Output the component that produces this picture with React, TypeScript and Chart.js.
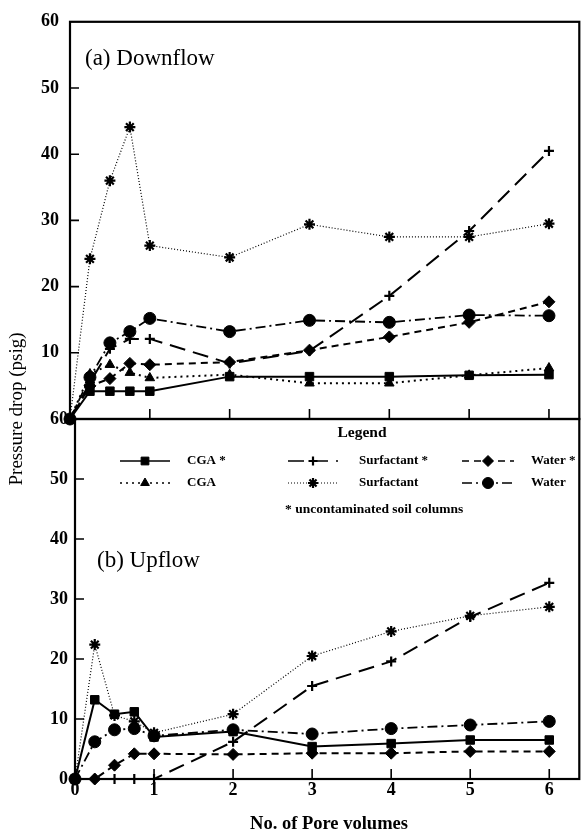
import React, { useEffect, useRef } from 'react';
import { Chart, registerables } from 'chart.js';
import { drawPoint } from 'chart.js/helpers';

Chart.register(...registerables);

// ---------- data ----------
const poreVolumes = [0, 0.25, 0.5, 0.75, 1, 2, 3, 4, 5, 6];
const xTickValues = [0, 1, 2, 3, 4, 5, 6];
const yTickValues = [0, 10, 20, 30, 40, 50, 60];
const innerXTicks = [1, 2, 3, 4, 5, 6];
const innerYTicks = [10, 20, 30, 40, 50];

const seriesLabels = ['CGA *', 'CGA', 'Surfactant *', 'Surfactant', 'Water *', 'Water'];

// (a) Downflow
const downCgaUncontam = [0, 4.2, 4.2, 4.2, 4.2, 6.4, 6.4, 6.4, 6.6, 6.7];
const downCga = [0, 6.8, 8.2, 7.0, 6.2, 6.7, 5.4, 5.4, 6.6, 7.7];
const downSurfUncontam = [0, 5.5, 10.6, 12.1, 12.1, 8.4, 10.3, 18.6, 28.4, 40.5];
const downSurf = [0, 24.2, 36.0, 44.1, 26.2, 24.4, 29.4, 27.5, 27.5, 29.5];
const downWaterUncontam = [0, 5.0, 6.1, 8.4, 8.2, 8.6, 10.4, 12.4, 14.6, 17.7];
const downWater = [0, 6.3, 11.5, 13.2, 15.2, 13.2, 14.9, 14.6, 15.7, 15.6];

// (b) Upflow
const upCgaUncontam = [0, 13.2, 10.8, 11.2, 7.0, 7.9, 5.4, 5.9, 6.5, 6.5];
const upSurfUncontam = [0, 0, 0, 0, 0, 6.2, 15.5, 19.6, 27.0, 32.7];
const upSurf = [0, 22.4, 10.6, 9.6, 7.7, 10.8, 20.5, 24.6, 27.2, 28.7];
const upWaterUncontam = [0, 0, 2.3, 4.2, 4.2, 4.1, 4.3, 4.3, 4.6, 4.6];
const upWater = [0, 6.2, 8.2, 8.4, 7.2, 8.2, 7.5, 8.4, 9.0, 9.6];

// ---------- styles ----------
type Sty = { pointStyle: any; radius: number; dash: number[]; width: number; pbw: number };
const STY: Record<string, Sty> = {
  'CGA *': { pointStyle: 'rect', radius: 6, dash: [], width: 2, pbw: 1 },
  'CGA': { pointStyle: 'triangle', radius: 5.5, dash: [2, 4], width: 2, pbw: 1 },
  'Surfactant *': { pointStyle: 'cross', radius: 5, dash: [16, 8], width: 2, pbw: 2.2 },
  'Surfactant': { pointStyle: 'star', radius: 5.5, dash: [1, 2], width: 1.2, pbw: 2.2 },
  'Water *': { pointStyle: 'rectRot', radius: 6, dash: [7, 5], width: 2, pbw: 1 },
  'Water': { pointStyle: 'circle', radius: 6, dash: [10, 4, 2, 4], width: 1.8, pbw: 1 },
};

const FONT = "'Liberation Serif', 'DejaVu Serif', serif";

function ds(label: string, values: number[]) {
  const s = STY[label];
  return {
    label,
    data: poreVolumes.map((x, i) => ({ x, y: values[i] })),
    borderColor: '#000',
    backgroundColor: '#000',
    borderWidth: s.width,
    borderDash: s.dash,
    pointStyle: s.pointStyle,
    pointRadius: s.radius,
    pointBorderWidth: s.pbw,
    pointBackgroundColor: '#000',
    pointBorderColor: '#000',
    tension: 0,
    clip: false as any,
  };
}

function frameTicks() {
  return {
    id: 'frameTicks',
    afterDatasetsDraw(chart: any) {
      const { ctx, chartArea, scales } = chart;
      const { left, right, top, bottom } = chartArea;
      ctx.save();
      ctx.setLineDash([]);
      ctx.strokeStyle = '#000';
      ctx.lineWidth = 1.6;
      ctx.beginPath();
      innerXTicks.forEach((v) => {
        const px = scales.x.getPixelForValue(v);
        ctx.moveTo(px, bottom);
        ctx.lineTo(px, bottom - 10);
      });
      innerYTicks.forEach((v) => {
        const py = scales.y.getPixelForValue(v);
        ctx.moveTo(left, py);
        ctx.lineTo(left + 9, py);
      });
      ctx.stroke();
      ctx.lineWidth = 2.2;
      ctx.strokeRect(left, top, right - left, bottom - top);
      ctx.restore();
    },
  };
}

function panelLabel(text: string, x: number, y: number) {
  return {
    id: 'panelLabel',
    afterDraw(chart: any) {
      const ctx = chart.ctx;
      ctx.save();
      ctx.fillStyle = '#000';
      ctx.font = `23px ${FONT}`;
      ctx.textAlign = 'left';
      ctx.textBaseline = 'alphabetic';
      ctx.fillText(text, x, y);
      ctx.restore();
    },
  };
}

function sample(ctx: CanvasRenderingContext2D, label: string, x0: number, x1: number, y: number) {
  const s = STY[label];
  ctx.save();
  ctx.strokeStyle = '#000';
  ctx.fillStyle = '#000';
  ctx.lineWidth = Math.max(1, s.width * 0.8);
  ctx.setLineDash(s.dash);
  ctx.beginPath();
  ctx.moveTo(x0, y);
  ctx.lineTo(x1, y);
  ctx.stroke();
  ctx.setLineDash([]);
  ctx.lineWidth = s.pbw;
  drawPoint(ctx, { pointStyle: s.pointStyle, radius: s.radius - 0.5, rotation: 0, borderWidth: s.pbw } as any, (x0 + x1) / 2, y);
  ctx.restore();
}

const legendAndTitles = {
  id: 'legendAndTitles',
  afterDraw(chart: any) {
    const ctx = chart.ctx as CanvasRenderingContext2D;
    ctx.save();
    ctx.fillStyle = '#000';
    // Legend title
    ctx.font = `bold 15.5px ${FONT}`;
    ctx.textAlign = 'center';
    ctx.textBaseline = 'middle';
    ctx.fillText('Legend', 362, 433);
    // entries
    const cols = [
      { sx0: 120, sx1: 170, tx: 187 },
      { sx0: 288, sx1: 338, tx: 359 },
      { sx0: 462, sx1: 514, tx: 531 },
    ];
    const rows = [461, 483];
    seriesLabels.forEach((lab, i) => {
      const c = cols[Math.floor(i / 2)];
      const r = rows[i % 2];
      sample(ctx, lab, c.sx0, c.sx1, r);
      ctx.fillStyle = '#000';
      ctx.font = `bold 13px ${FONT}`;
      ctx.textAlign = 'left';
      ctx.textBaseline = 'middle';
      ctx.fillText(lab, c.tx, r);
    });
    ctx.font = `bold 13.5px ${FONT}`;
    ctx.fillText('* uncontaminated soil columns', 285, 510);

    // axis titles
    ctx.font = `bold 18.5px ${FONT}`;
    ctx.textAlign = 'center';
    ctx.textBaseline = 'middle';
    ctx.fillText('No. of Pore volumes', 329, 824);

    ctx.save();
    ctx.translate(17, 409);
    ctx.rotate(-Math.PI / 2);
    ctx.font = `19px ${FONT}`;
    ctx.fillText('Pressure drop (psig)', 0, 0);
    ctx.restore();
    ctx.restore();
  },
};

function baseOptions(opts: {
  padTop: number; padRight: number; yWidth: number; xHeight: number;
  showX: boolean; yPad: number; hideZero: boolean;
}) {
  const tickFont = { family: FONT, size: 18, weight: 'bold' as any };
  return {
    responsive: false,
    animation: false as const,
    events: [] as any[],
    layout: { padding: { top: opts.padTop, right: opts.padRight, left: 0, bottom: 0 } },
    plugins: { legend: { display: false }, tooltip: { enabled: false }, title: { display: false } },
    scales: {
      x: {
        type: 'linear' as const,
        min: 0,
        max: 6.38,
        grid: { display: false, drawTicks: false },
        border: { display: false },
        ticks: { display: opts.showX, padding: 1, color: '#000', font: tickFont },
        afterBuildTicks: (s: any) => { s.ticks = xTickValues.map((v) => ({ value: v })); },
        afterFit: (s: any) => { s.height = opts.xHeight; },
      },
      y: {
        type: 'linear' as const,
        min: 0,
        max: 60,
        grid: { display: false, drawTicks: false },
        border: { display: false },
        ticks: {
          padding: opts.yPad,
          color: '#000',
          font: tickFont,
          callback: (v: any) => (opts.hideZero && v === 0 ? '' : String(v)),
        },
        afterBuildTicks: (s: any) => { s.ticks = yTickValues.map((v) => ({ value: v })); },
        afterFit: (s: any) => { s.width = opts.yWidth; },
      },
    },
  };
}

export default function App() {
  const topRef = useRef<HTMLCanvasElement>(null);
  const botRef = useRef<HTMLCanvasElement>(null);

  useEffect(() => {
    const top = new Chart(topRef.current!, {
      type: 'line',
      data: {
        datasets: [
          ds('CGA *', downCgaUncontam),
          ds('CGA', downCga),
          ds('Surfactant *', downSurfUncontam),
          ds('Surfactant', downSurf),
          ds('Water *', downWaterUncontam),
          ds('Water', downWater),
        ],
      },
      options: baseOptions({ padTop: 18, padRight: 5, yWidth: 70, xHeight: 834 - 419, showX: false, yPad: 11, hideZero: true }) as any,
      plugins: [frameTicks(), panelLabel('(a) Downflow', 85, 65)],
    });
    const bot = new Chart(botRef.current!, {
      type: 'line',
      data: {
        datasets: [
          ds('CGA *', upCgaUncontam),
          ds('Surfactant *', upSurfUncontam),
          ds('Surfactant', upSurf),
          ds('Water *', upWaterUncontam),
          ds('Water', upWater),
        ],
      },
      options: baseOptions({ padTop: 419, padRight: 2, yWidth: 75, xHeight: 834 - 779, showX: true, yPad: 7, hideZero: false }) as any,
      plugins: [frameTicks(), panelLabel('(b) Upflow', 97, 567), legendAndTitles],
    });
    return () => {
      top.destroy();
      bot.destroy();
    };
  }, []);

  return (
    <div style={{ position: 'absolute', left: 0, top: 0, width: 587, height: 834, background: '#fff' }}>
      <canvas ref={topRef} width={587} height={834} style={{ position: 'absolute', left: 0, top: 0 }} />
      <canvas ref={botRef} width={587} height={834} style={{ position: 'absolute', left: 0, top: 0 }} />
    </div>
  );
}
